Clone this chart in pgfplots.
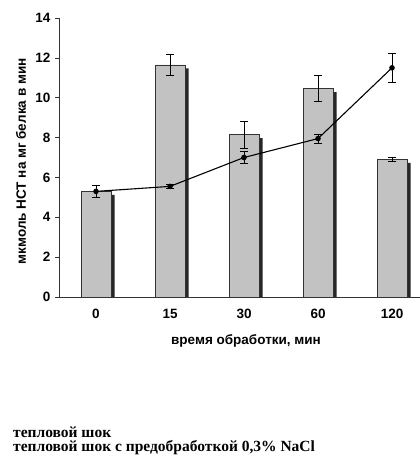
\documentclass[border=0pt]{standalone}
\usepackage{pgfplots}
\pgfplotsset{compat=1.18}
\usepackage{pgfplotstable}
\usepackage{fontspec}
\setmainfont{Liberation Sans}
\newfontfamily\serifb{Liberation Serif}
\pgfplotstableread{
x y e
0 5.30 0.30
1 11.65 0.55
2 8.15 0.67
3 10.45 0.65
4 6.90 0.10
}\bars
\pgfplotstableread{
x y e
0 5.30 0.30
1 5.55 0.10
2 7.00 0.30
3 7.95 0.22
4 11.50 0.75
}\linedata
\begin{document}
\begin{tikzpicture}
\useasboundingbox (0,0) rectangle (420pt,455pt);
\begin{axis}[
  at={(59pt,158pt)}, anchor=south west,
  scale only axis, width=361pt, height=279pt,
  xmin=-0.5, xmax=4.378, ymin=0, ymax=14,
  axis x line=bottom, axis y line=left,
  axis line style={-, line width=0.7pt, black!80},
  ytick={0,2,...,14},
  xtick={0,1,2,3,4}, xticklabels={0,15,30,60,120},
  x tick style={draw=none},
  y tick style={black!80, line width=0.6pt},
  tick align=outside, major tick length=4pt,
  extra x ticks={0.5,1.5,2.5,3.5}, extra x tick labels={},
  extra x tick style={major tick length=7pt, tick align=center, tick style={draw=black!80, line width=0.6pt}},
  /pgf/number format/assume math mode=true,
  ticklabel style={font=\bfseries\fontsize{13.5}{15}\selectfont},
  xticklabel style={yshift=-5pt},
  yticklabel style={xshift=-1pt},
  xlabel={время обработки, мин},
  ylabel={мкмоль НСТ на мг белка в мин},
  label style={font=\bfseries\fontsize{13.5}{15}\selectfont},
  xlabel style={at={(axis description cs:0.518,-0.158)}, anchor=center},
  ylabel style={at={(axis description cs:-0.105,0.486)}, anchor=center},
  clip=true,
]
\addplot[ybar, bar width=30pt, bar shift=0pt, fill=black!85, draw=none, xshift=3.5pt, yshift=-3.5pt, forget plot] table[x=x,y=y] {\bars};
\addplot[ybar, bar width=30pt, bar shift=0pt, fill=gray!48, draw=black!80, line width=0.5pt,
  error bars/.cd, y dir=both, y explicit,
  error bar style={line width=0.7pt, black},
  error mark options={rotate=90, mark size=4pt, line width=0.7pt, black}]
  table[x=x, y=y, y error=e] {\bars};
\addplot[black, line width=1.1pt, mark=*, mark size=2.2pt,
  error bars/.cd, y dir=both, y explicit,
  error bar style={line width=0.7pt, black},
  error mark options={rotate=90, mark size=4pt, line width=0.7pt, black}]
  table[x=x, y=y, y error=e] {\linedata};
\end{axis}
\node[anchor=base west, inner sep=0pt, align=left, font=\serifb\bfseries\fontsize{15.5}{14}\selectfont] at (13pt,3pt) {тепловой шок\\тепловой шок с предобработкой 0,3\% NaCl};
\end{tikzpicture}
\end{document}
